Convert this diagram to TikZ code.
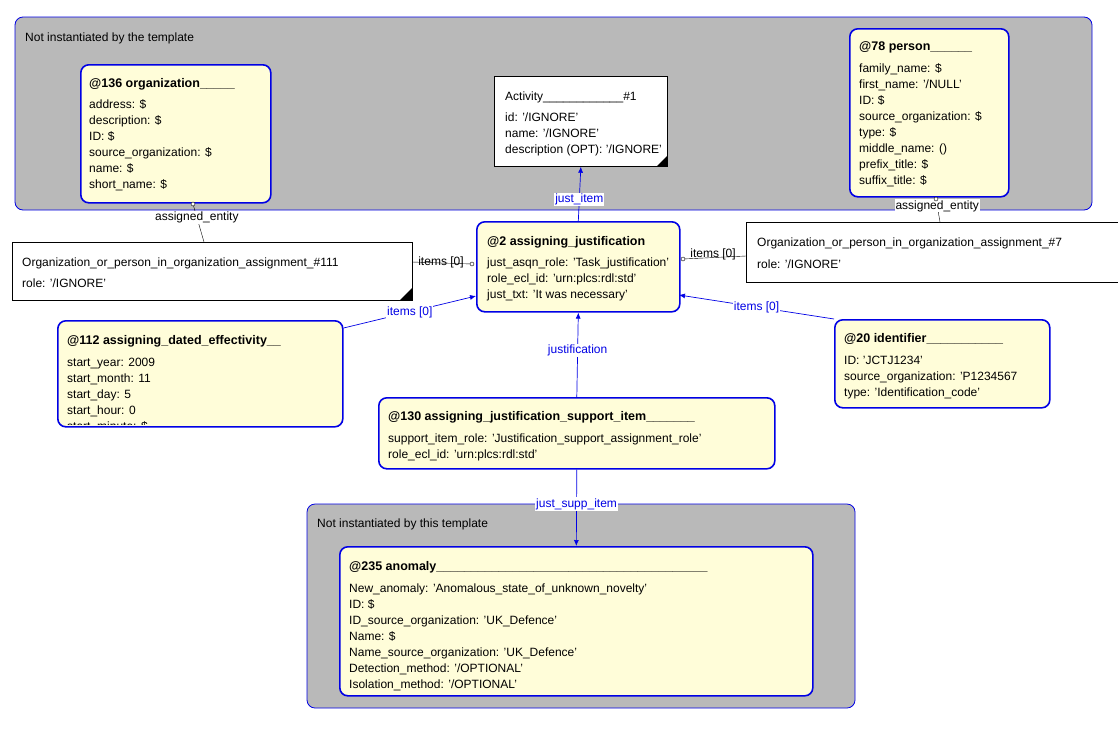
\documentclass[tikz,border=0pt]{standalone}
\usepackage{fontspec}
\setmainfont{Liberation Sans}
\usetikzlibrary{arrows.meta}
\begin{document}
\begin{tikzpicture}[x=1pt,y=-1pt,
  grp/.style={draw=blue!90!black,fill=gray!55,rounded corners=8pt,line width=0.8pt},
  ent/.style={draw=blue!90!black,fill=yellow!15,rounded corners=8pt,line width=1.6pt},
  tpl/.style={draw=black,fill=white,line width=0.7pt},
  txt/.style={anchor=base west,inner sep=0pt,font=\fontsize{12}{14}\selectfont},
  ttl/.style={anchor=base west,inner sep=0pt,font=\fontsize{12.5}{14}\selectfont\bfseries},
  lbl/.style={fill=white,inner sep=1pt,font=\fontsize{12}{14}\selectfont},
  bl/.style={blue!90!black,line width=0.7pt},
  arr/.style={bl,-{Latex[length=6pt,width=5pt]}},
  dia/.style={circle,draw=black,fill=white,inner sep=0pt,minimum size=4pt}]
\useasboundingbox (0,0) rectangle (1118,750);
\fill[white] (0,0) rectangle (1118,750);
% groups
\draw[grp] (15,17) rectangle (1092,210);
\node[txt] (g1) at (25,41) {Not instantiated by the template};
\draw[grp] (307,504) rectangle (855,708);
\node[txt] (g2) at (317,527) {Not instantiated by this template};
% boxes
\node[ent,minimum width=190,minimum height=138,anchor=north west] (org) at (80,64) {};
\node[tpl,minimum width=173,minimum height=90,anchor=north west] (act) at (494,76) {};
\fill[black] (667,156) -- (667,166) -- (657,166) -- cycle;
\node[ent,minimum width=159,minimum height=168,anchor=north west] (per) at (849,28) {};
\node[tpl,minimum width=400,minimum height=58,anchor=north west] (o111) at (12,242) {};
\fill[black] (412,288) -- (412,300) -- (400,300) -- cycle;
\node[tpl,minimum width=380,minimum height=60,anchor=north west] (o7) at (746,222) {};
\node[ent,minimum width=203,minimum height=90,anchor=north west] (aj) at (476,221) {};
\node[ent,minimum width=285,minimum height=106,anchor=north west] (ade) at (57,320) {};
\node[ent,minimum width=215,minimum height=88,anchor=north west] (idf) at (834,319) {};
\node[ent,minimum width=396,minimum height=71,anchor=north west] (ajs) at (378,397) {};
\node[ent,minimum width=473,minimum height=149,anchor=north west] (ano) at (339,546) {};
% texts
\node[ttl] (t1) at (89,87) {@136 organization\_\_\_\_\_};
\node[txt] (t1a) at (89,108) {address: \$};
\node[txt] (t1b) at (89,124) {description: \$};
\node[txt] (t1c) at (89,140) {ID: \$};
\node[txt] (t1d) at (89,156) {source\_organization: \$};
\node[txt] (t1e) at (89,172) {name: \$};
\node[txt] (t1f) at (89,188) {short\_name: \$};
\begin{scope}\clip (494,76) rectangle (665,166);
\node[txt] (t2) at (505,100) {Activity\_\_\_\_\_\_\_\_\_\_\_\_\#1};
\node[txt] (t2a) at (505,121) {id: '/IGNORE'};
\node[txt] (t2b) at (505,137) {name: '/IGNORE'};
\node[txt] (t2c) at (505,153) {description (OPT): '/IGNORE'};
\end{scope}
\node[ttl] (t3) at (859,50) {@78 person\_\_\_\_\_\_};
\node[txt] (t3a) at (859,72) {family\_name: \$};
\node[txt] (t3b) at (859,88) {first\_name: '/NULL'};
\node[txt] (t3c) at (859,104) {ID: \$};
\node[txt] (t3d) at (859,120) {source\_organization: \$};
\node[txt] (t3e) at (859,136) {type: \$};
\node[txt] (t3f) at (859,152) {middle\_name: ()};
\node[txt] (t3g) at (859,168) {prefix\_title: \$};
\node[txt] (t3h) at (859,184) {suffix\_title: \$};
\node[txt] (t4) at (22,266) {Organization\_or\_person\_in\_organization\_assignment\_\#111};
\node[txt] (t4a) at (22,287) {role: '/IGNORE'};
\begin{scope}\clip (746,222) rectangle (1118,282);
\node[txt] (t5) at (757,246) {Organization\_or\_person\_in\_organization\_assignment\_\#7};
\node[txt] (t5a) at (757,268) {role: '/IGNORE'};
\end{scope}
\begin{scope}\clip (476,221) rectangle (677,311);
\node[ttl] (t6) at (487,245) {@2 assigning\_justification};
\node[txt] (t6a) at (487,266) {just\_asqn\_role: 'Task\_justification'};
\node[txt] (t6b) at (487,282) {role\_ecl\_id: 'urn:plcs:rdl:std'};
\node[txt] (t6c) at (487,298) {just\_txt: 'It was necessary'};
\end{scope}
\begin{scope}\clip (57,320) rectangle (342,424);
\node[ttl] (t7) at (67,344) {@112 assigning\_dated\_effectivity\_\_};
\node[txt] (t7a) at (67,366) {start\_year: 2009};
\node[txt] (t7b) at (67,382) {start\_month: 11};
\node[txt] (t7c) at (67,398) {start\_day: 5};
\node[txt] (t7d) at (67,414) {start\_hour: 0};
\node[txt] (t7e) at (67,430) {start\_minute: \$};
\end{scope}
\node[ttl] (t8) at (844,342) {@20 identifier\_\_\_\_\_\_\_\_\_\_\_};
\node[txt] (t8a) at (844,364) {ID: 'JCTJ1234'};
\node[txt] (t8b) at (844,380) {source\_organization: 'P1234567};
\node[txt] (t8c) at (844,396) {type: 'Identification\_code'};
\node[ttl] (t9) at (388,420) {@130 assigning\_justification\_support\_item\_\_\_\_\_\_\_};
\node[txt] (t9a) at (388,442) {support\_item\_role: 'Justification\_support\_assignment\_role'};
\node[txt] (t9b) at (388,458) {role\_ecl\_id: 'urn:plcs:rdl:std'};
\node[ttl] (t10) at (349,570) {@235 anomaly\_\_\_\_\_\_\_\_\_\_\_\_\_\_\_\_\_\_\_\_\_\_\_\_\_\_\_\_\_\_\_\_\_\_\_\_\_\_\_};
\node[txt] (t10a) at (349,592) {New\_anomaly: 'Anomalous\_state\_of\_unknown\_novelty'};
\node[txt] (t10b) at (349,608) {ID: \$};
\node[txt] (t10c) at (349,624) {ID\_source\_organization: 'UK\_Defence'};
\node[txt] (t10d) at (349,640) {Name: \$};
\node[txt] (t10e) at (349,656) {Name\_source\_organization: 'UK\_Defence'};
\node[txt] (t10f) at (349,672) {Detection\_method: '/OPTIONAL'};
\node[txt] (t10g) at (349,688) {Isolation\_method: '/OPTIONAL'};
% connectors
\coordinate (c1) at (193,204);
\coordinate (c2) at (936,199);
\draw[arr] (aj.north) -- node[lbl,pos=0.4] (l1) {just\_item} (act.south);
\draw[black] (c1) -- node[lbl,pos=0.35] (l2) {assigned\_entity} (204,242);
\node[dia] (d1) at (c1) {};
\draw[black] (c2) -- node[lbl,pos=0.3] (l3) {assigned\_entity} (940,222);
\node[dia] (d2) at (c2) {};
\coordinate (c3) at (472,264);
\draw[black] (412,262) -- (c3);
\node[lbl,fill=none] (l4) at (441,262) {items [0]};
\node[dia] (d3) at (c3) {};
\coordinate (c4) at (683,259);
\draw[black] (c4) -- (746,256);
\node[lbl,fill=none] (l5) at (713,254) {items [0]};
\node[dia] (d4) at (c4) {};
\draw[arr] (ade.north east) ++(0,8) -- node[lbl,pos=0.5] (l6) {items [0]} (476,296);
\draw[arr] (idf.north west) -- node[lbl,pos=0.5] (l7) {items [0]} (679,295);
\draw[arr] (ajs.north) -- node[lbl,pos=0.55] (l8) {justification} (aj.south);
\draw[arr] (ajs.south) -- node[lbl,pos=0.45] (l9) {just\_supp\_item} (ano.north);
\end{tikzpicture}
\end{document}
